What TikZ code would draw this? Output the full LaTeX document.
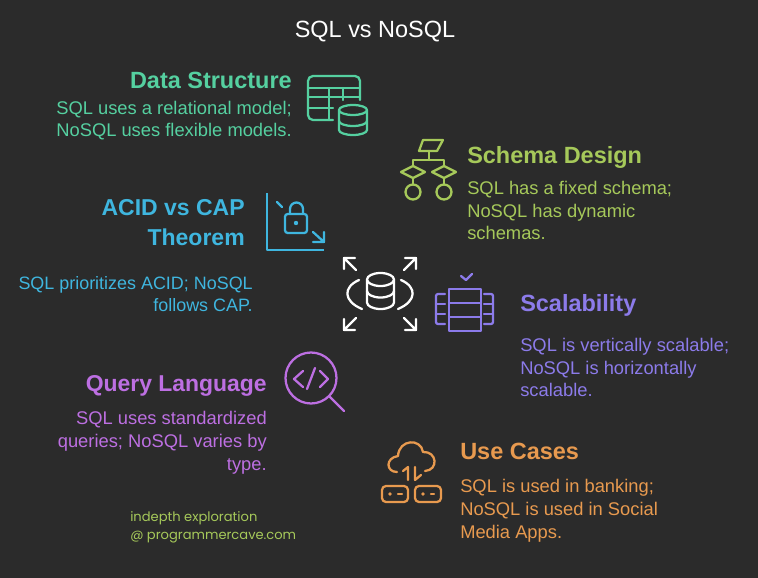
\documentclass[tikz,border=0pt]{standalone}
\usepackage{xcolor}
\usepackage{fontspec}
\setmainfont{Liberation Sans}
\newfontfamily\notefont{Poppins}
\definecolor{bgdark}{HTML}{2B2B2B}
\definecolor{cdata}{HTML}{55D0A0}
\definecolor{cschema}{HTML}{A6C95A}
\definecolor{cacid}{HTML}{3FB6DF}
\definecolor{cscale}{HTML}{8C7BEA}
\definecolor{cquery}{HTML}{BD6FE2}
\definecolor{cuse}{HTML}{E89A4F}
\tikzset{
  head/.style={font=\fontsize{17.6}{23}\selectfont\bfseries, inner sep=0pt},
  body/.style={font=\fontsize{13.75}{17.1}\selectfont, inner sep=0pt},
  icon/.style={line width=1.7pt, line cap=round, line join=round},
}
\begin{document}
\begin{tikzpicture}[x=0.75pt,y=-0.75pt]
        \fill[bgdark] (0,0) rectangle (758,578);
        \useasboundingbox (0,0) rectangle (758,578);
        \node[white, font=\fontsize{17.6}{22}\selectfont, inner sep=0pt] (title) at (375,32) {SQL vs NoSQL};

        % Data structure
        \node[head, cdata, anchor=east] (datahead) at (292,80) {Data Structure};
        \node[body, cdata, anchor=east, align=right] (datatext) at (292,120.5) {SQL uses a relational model;\\NoSQL uses flexible models.};
        \draw[icon, cdata] (333,120) -- (313,120) arc (90:180:5) -- (308,81) arc (180:270:5) -- (355,76) arc (270:360:5) -- (360,100);
        \draw[icon, cdata] (308,88) -- (360,88) (308,97) -- (360,97) (308,108) -- (333,108) (329,88) -- (329,120) (343,88) -- (343,100);
        \draw[icon, cdata, fill=bgdark] (339,110) arc (180:-180:14 and 5) -- (339,130) arc (180:0:14 and 5) -- (367,110);
        \draw[icon, cdata] (339,121) arc (180:0:14 and 5);

        % Schema design
        \node[head, cschema, anchor=west] (schemahead) at (467,157.5) {Schema Design};
        \node[body, cschema, anchor=west, align=left] (schematext) at (467,210.5) {SQL has a fixed schema;\\NoSQL has dynamic\\schemas.};
        \draw[icon, cschema] (423,140) -- (443,140) -- (437,151) -- (419,151) -- cycle;
        \draw[icon, cschema] (429,151) -- (429,160) (413,166) -- (413,160) -- (444,160) -- (444,166);
        \draw[icon, cschema] (401,172) -- (413,166) -- (425,172) -- (413,178) -- cycle;
        \draw[icon, cschema] (432,172) -- (444,166) -- (456,172) -- (444,178) -- cycle;
        \draw[icon, cschema] (413,178) -- (413,184.5) (444,178) -- (444,184.5);
        \draw[icon, cschema] (413,192) circle (7.5) (444,192) circle (7.5);

        % ACID vs CAP
        \node[head, cacid, anchor=east, align=right, font=\fontsize{17.25}{22.5}\selectfont\bfseries] (acidhead) at (245,223) {ACID vs CAP\\Theorem};
        \node[body, cacid, anchor=east, align=right, font=\fontsize{13.45}{17.1}\selectfont] (acidtext) at (253,294) {SQL prioritizes ACID; NoSQL\\follows CAP.};
        \draw[icon, cacid, line cap=butt] (267,193) -- (267,250) -- (324,250);
        \draw[icon, cacid] (277,202) -- (282,207);
        \draw[icon, cacid, rounded corners=2pt] (285,214) rectangle (307,233);
        \draw[icon, cacid] (290,214) -- (290,209) arc (180:360:6.5) -- (303,214);
        \fill[cacid] (296,223) circle (2.2);
        \draw[icon, cacid] (313,232) -- (324,242) (324,232) -- (324,242) -- (313,242);

        % Center
        \draw[icon, white] (367,279.5) arc (180:-180:13.5 and 6.5) -- (367,302.5) arc (180:0:13.5 and 6.5) -- (394,279.5);
        \draw[icon, white] (367,291) arc (180:0:13.5 and 6.5);
        \draw[icon, white] (359,280) .. controls (343,287) and (343,301) .. (362,309);
        \draw[icon, white] (401,280) .. controls (417,287) and (417,301) .. (398,309);
        \draw[icon, white] (356,270) -- (344,258) (344,269) -- (344,258) -- (355,258);
        \draw[icon, white] (404,270) -- (416,258) (405,258) -- (416,258) -- (416,269);
        \draw[icon, white] (356,318) -- (344,330) (344,319) -- (344,330) -- (355,330);
        \draw[icon, white] (404,318) -- (416,330) (405,330) -- (416,330) -- (416,319);

        % Scalability
        \node[head, cscale, anchor=west] (scalehead) at (520,305) {Scalability};
        \node[body, cscale, anchor=west, align=left] (scaletext) at (520,367.5) {SQL is vertically scalable;\\NoSQL is horizontally\\scalable.};
        \draw[icon, cscale] (449,289) rectangle (481,331);
        \draw[icon, cscale] (449,303) -- (481,303) (449,317) -- (481,317);
        \draw[icon, cscale] (461,276) -- (466,280) -- (472,274);
        \draw[icon, cscale] (445,294) -- (438,294) arc (270:180:2) -- (436,322) arc (180:90:2) -- (445,324);
        \draw[icon, cscale] (436,304) -- (445,304) (436,314) -- (445,314);
        \draw[icon, cscale] (484,294) -- (491,294) arc (270:360:2) -- (493,322) arc (0:90:2) -- (484,324);
        \draw[icon, cscale] (484,304) -- (493,304) (484,314) -- (493,314);

        % Query language
        \node[head, cquery, anchor=east, font=\fontsize{17.2}{23}\selectfont\bfseries] (queryhead) at (267,386) {Query Language};
        \node[body, cquery, anchor=east, align=right] (querytext) at (267,443) {SQL uses standardized\\queries; NoSQL varies by\\type.};
        \draw[icon, cquery] (311,378) circle (25.5);
        \draw[icon, cquery] (330,397) -- (344,411);
        \draw[icon, cquery] (303,371) -- (294,379) -- (303,387) (320,371) -- (328,379) -- (320,387) (315,368) -- (307,389);

        % Use cases
        \node[head, cuse, anchor=west] (usehead) at (460,451) {Use Cases};
        \node[body, cuse, anchor=west, align=left] (usetext) at (460,511) {SQL is used in banking;\\NoSQL is used in Social\\Media Apps.};
        \draw[icon, cuse] (397,472) .. controls (386,472) and (385,458) .. (398,456) .. controls (399,439) and (421,438) .. (423,452) .. controls (437,451) and (439,470) .. (425,471);
        \draw[icon, cuse] (403,471) -- (408,467) -- (408,480) (415,467) -- (415,480) -- (421,475);
        \draw[icon, cuse, rounded corners=3pt] (382,486) rectangle (408,502);
        \draw[icon, cuse, rounded corners=3pt] (415,486) rectangle (441,502);
        \draw[icon, cuse] (398,494) -- (402,494) (431,494) -- (434,494);
        \fill[cuse] (390,494) circle (1.8) (423,494) circle (1.8);

        % Note
        \node[cschema, font=\notefont\fontsize{9.8}{13.5}\selectfont, align=left, anchor=west, inner sep=0pt] (note) at (130,527) {indepth exploration\\@ programmercave.com};
    \end{tikzpicture}
\end{document}
